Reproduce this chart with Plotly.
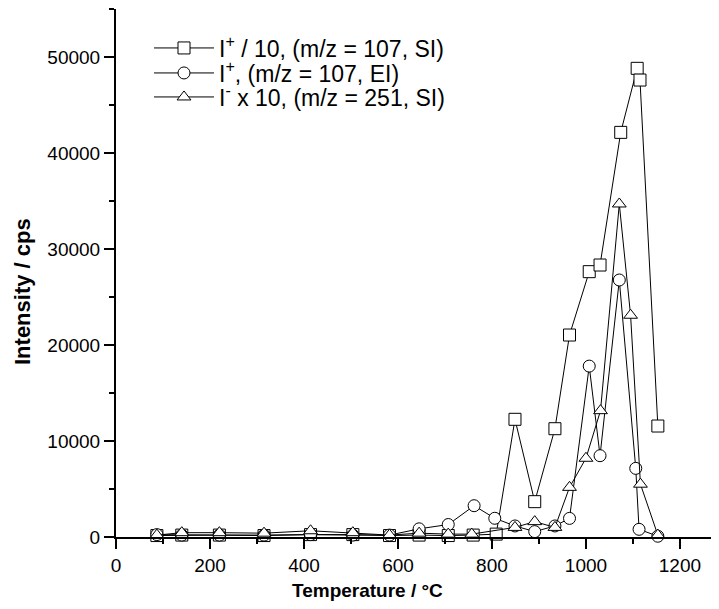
import plotly.graph_objects as go

# Series: I+ / 10 (m/z = 107, SI)
t_sq = [87, 140, 220, 315, 414, 504, 582, 645, 707, 760, 809, 849, 891, 934, 965, 1007, 1030, 1074, 1109, 1115, 1153]
i_sq = [150, 200, 200, 150, 250, 250, 150, 200, 150, 200, 300, 12260, 3680, 11280, 21040, 27640, 28330, 42150, 48820, 47600, 11560]

# Series: I+ (m/z = 107, EI)
t_ci = [87, 140, 220, 315, 414, 504, 582, 645, 707, 762, 806, 849, 891, 934, 965, 1007, 1030, 1071, 1106, 1113, 1153]
i_ci = [250, 200, 200, 200, 250, 200, 200, 850, 1300, 3260, 1950, 1150, 560, 1150, 1940, 17800, 8470, 26770, 7150, 800, 80]

# Series: I- x 10 (m/z = 251, SI)
t_tr = [87, 140, 220, 315, 414, 504, 582, 645, 707, 757, 849, 891, 934, 965, 1000, 1031, 1071, 1095, 1116, 1153]
i_tr = [200, 450, 450, 400, 650, 450, 200, 400, 300, 300, 1000, 1600, 1000, 5170, 8200, 13160, 34690, 23100, 5500, 200]

names = ["I<sup>+</sup> / 10, (m/z = 107, SI)",
         "I<sup>+</sup>, (m/z = 107, EI)",
         "I<sup>-</sup> x 10, (m/z = 251, SI)"]

x_ticks = [0, 200, 400, 600, 800, 1000, 1200]
y_ticks = [0, 10000, 20000, 30000, 40000, 50000]

font = "Liberation Sans, Arial, sans-serif"
OFF = 8  # page body margin
W, H = 719 - OFF, 609 - OFF
L, R, T, B = 116 - OFF, 1, 1, 72
pw, ph = W - L - R, H - T - B

def py(p):  # screenshot pixel y -> paper y
    return (H - B - (p - OFF)) / ph

def px(p):  # screenshot pixel x -> paper x
    return ((p - OFF) - L) / pw

legend_ids = ["legend", "legend2", "legend3"]
legend_rows = [48, 73, 97]

fig = go.Figure()
for k, (t, v, sym, nm) in enumerate([(t_sq, i_sq, "square", names[0]),
                                       (t_ci, i_ci, "circle", names[1]),
                                       (t_tr, i_tr, "triangle-up", names[2])]):
    fig.add_trace(go.Scatter(
        x=t, y=v, name=nm, mode="lines+markers", legend=legend_ids[k],
        line=dict(color="black", width=1),
        marker=dict(symbol=sym, size=12, color="white",
                    line=dict(color="black", width=1)),
        cliponaxis=False,
    ))

leg_common = dict(xanchor="left", yanchor="middle", bgcolor="rgba(0,0,0,0)",
                  font=dict(size=23, family=font, color="black"), itemwidth=60)
layout_legends = {}
for lid, row in zip(legend_ids, legend_rows):
    layout_legends[lid] = dict(x=px(149), y=py(row), **leg_common)

fig.update_layout(
    width=W, height=H,
    margin=dict(l=L, r=R, t=T, b=B),
    paper_bgcolor="white", plot_bgcolor="white",
    font=dict(family=font, color="black", size=19),
    showlegend=True,
    **layout_legends,
    xaxis=dict(range=[0, 1281], tickvals=x_ticks, ticks="outside", ticklen=10, tickwidth=2,
               showline=True, linecolor="black", linewidth=2, showgrid=False, zeroline=False,
               minor=dict(dtick=100, ticks="outside", ticklen=5, tickwidth=2, tickcolor="black"),
               tickcolor="black", tickfont=dict(size=19), automargin=False),
    yaxis=dict(range=[0, 55000], tickvals=y_ticks, tickformat="d", ticks="outside", ticklen=10, tickwidth=2,
               showline=True, linecolor="black", linewidth=2, showgrid=False, zeroline=False,
               minor=dict(dtick=5000, ticks="outside", ticklen=5, tickwidth=2, tickcolor="black"),
               tickcolor="black", tickfont=dict(size=19), automargin=False),
    annotations=[
        dict(text="<b>Temperature / °C</b>", xref="paper", yref="paper",
             x=px(367), y=py(590), xanchor="center", yanchor="middle",
             showarrow=False, font=dict(size=19, family=font)),
        dict(text="<b>Intensity / cps</b>", xref="paper", yref="paper",
             x=px(22), y=py(292), xanchor="center", yanchor="middle",
             textangle=-90, showarrow=False, font=dict(size=22, family=font)),
    ],
)
fig.write_html("out.html")
